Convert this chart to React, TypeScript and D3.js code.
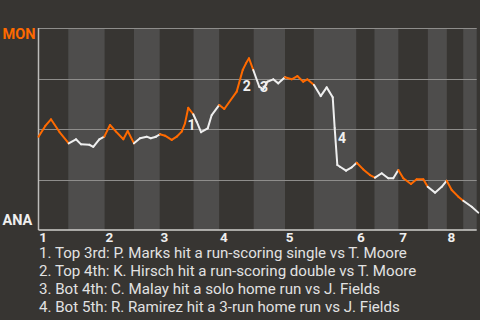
import React from "react";
import * as d3 from "d3";

const teams = ["MON", "ANA"];
const innings = ["1", "2", "3", "4", "5", "6", "7", "8"];
// start of each half inning, in plays
const halfInningStarts = [0, 5.3, 11.8, 17.0, 21.6, 27.6, 32.2, 38.3, 43.9, 49.0, 56.6, 59.8, 64.1, 69.3, 72.7, 75.6];
const playMax = 78;

const playX = [
  0, 1.21, 2.22, 3.74, 5.38, 6.67, 7.57, 9.04, 9.75, 10.82, 11.71, 12.73, 13.8, 15.1, 15.88, 17.0,
  18.07, 19.26, 19.97, 20.92, 21.63, 22.52, 23.71, 24.6, 25.49, 26.08, 26.66, 27.55, 28.16, 28.93,
  30.12, 30.83, 32.18, 33.07, 35.28, 36.35, 36.93, 37.47, 38.23, 39.3, 40.01, 40.73, 41.79, 42.68,
  43.87, 45.07, 46.07, 47.13, 47.85, 49.04, 50.23, 51.3, 52.37, 52.72, 53.19, 53.67, 54.74, 55.75,
  56.64, 57.81, 59.0, 59.9, 61.09, 62.26, 63.15, 64.05, 64.94, 66.3, 67.32, 68.5, 69.28, 70.58,
  71.77, 72.66, 73.55, 74.72, 75.61, 77.11, 78.28,
];
const monWinProb = [
  0.462, 0.515, 0.548, 0.485, 0.429, 0.449, 0.424, 0.422, 0.412, 0.449, 0.462, 0.52, 0.487, 0.449, 0.49, 0.429,
  0.454, 0.462, 0.454, 0.462, 0.474, 0.467, 0.446, 0.462, 0.487, 0.528, 0.605, 0.573, 0.536, 0.484,
  0.503, 0.569, 0.619, 0.599, 0.685, 0.792, 0.825, 0.85, 0.792, 0.709, 0.697, 0.734, 0.746, 0.726,
  0.756, 0.746, 0.762, 0.734, 0.746, 0.718, 0.663, 0.706, 0.657, 0.505, 0.322, 0.313, 0.294, 0.31,
  0.333, 0.3, 0.272, 0.259, 0.281, 0.256, 0.256, 0.297, 0.256, 0.228, 0.251, 0.251, 0.214, 0.185,
  0.214, 0.244, 0.198, 0.165, 0.145, 0.115, 0.086,
];

const eventLabels = ["1", "2", "3", "4"];
const eventX = [27.23, 37.06, 40.14, 54.02];
const eventY = [0.495, 0.69, 0.685, 0.432];
const footnotes = [
  "1. Top 3rd: P. Marks hit a run-scoring single vs T. Moore",
  "2. Top 4th: K. Hirsch hit a run-scoring double vs T. Moore",
  "3. Bot 4th: C. Malay hit a solo home run vs J. Fields",
  "4. Bot 5th: R. Ramirez hit a 3-run home run vs J. Fields",
];
const gridValues = [0.25, 0.5, 0.75, 1];

const W = 480;
const H = 320;
const BG = "#373532";
const LIGHT = "#4e4d4c";
const ORANGE = "#ff6a00";
const WHITE = "#efefef";
const FONT = "Roboto, sans-serif";

export default function App() {
  const left = 38.5;
  const right = 476.7;
  const top = 28;
  const bottom = 230;
  const x = d3.scaleLinear().domain([0, playMax]).range([left, right]);
  const y = d3.scaleLinear().domain([0, 1]).range([bottom, top]);

  const bandIndex = (v: number) => {
    let idx = 0;
    for (let i = 0; i < halfInningStarts.length; i++) if (v >= halfInningStarts[i]) idx = i;
    return idx;
  };

  const line = d3
    .line<[number, number]>()
    .x((d) => x(d[0]))
    .y((d) => y(d[1]));

  const segments = [] as { d: string; color: string }[];
  for (let i = 0; i < playX.length - 1; i++) {
    const mid = (playX[i] + playX[i + 1]) / 2;
    const color = bandIndex(mid) % 2 === 0 ? ORANGE : WHITE;
    segments.push({
      d: line([
        [playX[i], monWinProb[i]],
        [playX[i + 1], monWinProb[i + 1]],
      ]) as string,
      color,
    });
  }

  return (
    <div style={{ position: "absolute", left: 0, top: 0 }}>
      <svg width={W} height={H} style={{ display: "block" }}>
        <rect x={0} y={0} width={W} height={H} fill={BG} />
        {halfInningStarts.map((s, i) => {
          const e = i + 1 < halfInningStarts.length ? halfInningStarts[i + 1] : playMax;
          return (
            <rect
              key={i}
              x={x(s)}
              y={top}
              width={x(e) - x(s)}
              height={bottom - top}
              fill={i % 2 === 0 ? BG : LIGHT}
            />
          );
        })}
        {gridValues.map((g) => (
          <line key={g} x1={left} x2={right} y1={Math.round(y(g)) + 0.5} y2={Math.round(y(g)) + 0.5} stroke="#8e8d8b" strokeWidth={1} />
        ))}
        <line x1={left} x2={left} y1={top} y2={bottom} stroke="#bdbcba" strokeWidth={1.5} />
        <line x1={left} x2={right} y1={bottom} y2={bottom} stroke="#d0cfcd" strokeWidth={1.5} />
        {segments.map((s, i) => (
          <path key={i} d={s.d} stroke={s.color} strokeWidth={2} fill="none" strokeLinecap="round" />
        ))}
        {eventLabels.map((t, i) => (
          <text
            key={t}
            x={x(eventX[i])}
            y={y(eventY[i])}
            textAnchor="middle"
            fontFamily={FONT}
            fontWeight="bold"
            fontSize={14}
            fill={WHITE}
          >
            {t}
          </text>
        ))}
        <text x={2.5} y={39} fontFamily={FONT} fontWeight="bold" fontSize={14.5} fill={ORANGE}>
          {teams[0]}
        </text>
        <text x={2.5} y={225} fontFamily={FONT} fontWeight="bold" fontSize={14.5} fill={WHITE}>
          {teams[1]}
        </text>
        {innings.map((t, i) => (
          <text
            key={t}
            x={x(halfInningStarts[i * 2]) + 4.5}
            y={242}
            textAnchor="middle"
            fontFamily={FONT}
            fontWeight="bold"
            fontSize={13.5}
            fill={WHITE}
          >
            {t}
          </text>
        ))}
        {footnotes.map((t, i) => (
          <text key={i} x={39} y={258.3 + i * 17.8} fontFamily={FONT} fontSize={15.1} fill="#e2e2e2">
            {t}
          </text>
        ))}
      </svg>
    </div>
  );
}
